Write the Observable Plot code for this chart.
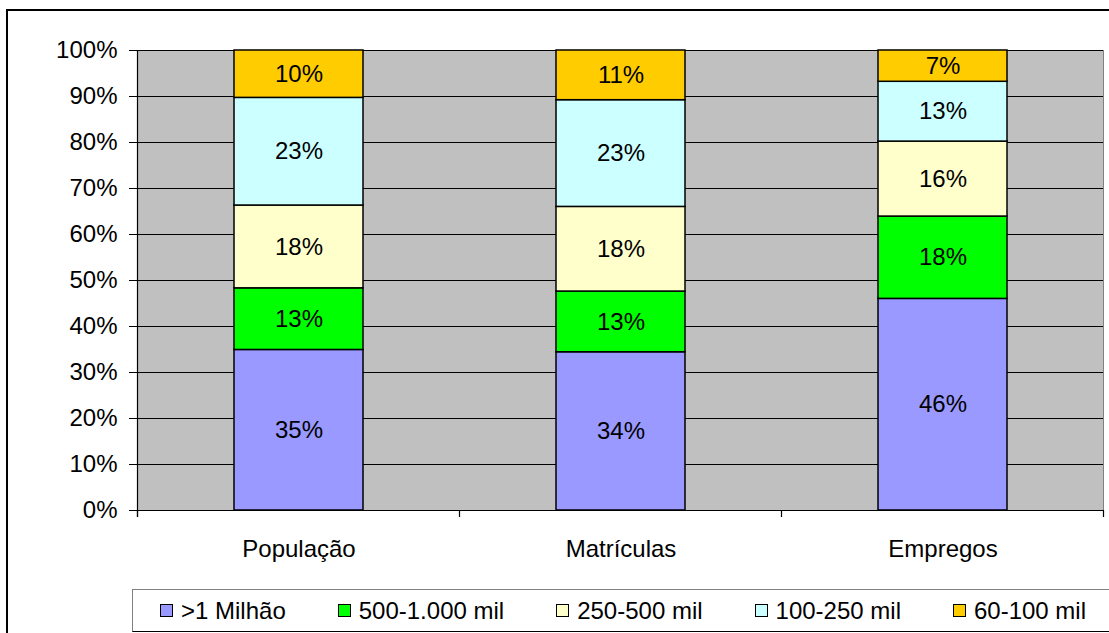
<!DOCTYPE html>
<html>
<head>
<meta charset="utf-8">
<script src="https://cdn.jsdelivr.net/npm/d3@7"></script>
<script src="https://cdn.jsdelivr.net/npm/@observablehq/plot@0.6"></script>
<style>
  html, body { margin: 0; padding: 0; background: #fff; overflow: hidden; }
  #wrap { position: relative; width: 1109px; height: 633px; font-family: "Liberation Sans", Arial, sans-serif; }
  #frame { position: absolute; left: 6px; top: 9px; width: 1120px; height: 640px; border: 2px solid #000; box-sizing: border-box; }
  #chart { position: absolute; left: 0; top: 0; }
  #legend { position: absolute; left: 132px; top: 589px; width: 1000px; height: 43px; border: 1px solid #808080; border-bottom: 1.5px solid #000; box-sizing: border-box; background: #fff; display: flex; align-items: center; padding-left: 27px; font-size: 24px; }
  .item { display: flex; align-items: center; margin-right: 52px; white-space: nowrap; }
  .sw { width: 11px; height: 11px; border: 1.5px solid #000; margin-right: 8px; }
</style>
</head>
<body>
<div id="wrap">
  <div id="frame"></div>
  <div id="chart"></div>
  <div id="legend"></div>
</div>
<script>
const categories = ["População", "Matrículas", "Empregos"];
const series = [">1 Milhão", "500-1.000 mil", "250-500 mil", "100-250 mil", "60-100 mil"];
const colors = ["#9999FF", "#00FF00", "#FFFFCC", "#CCFFFF", "#FFCC00"];
// values per series, in category order
const milhao   = [34.9, 34.4, 46.0];
const mil500   = [13.4, 13.2, 17.9];
const mil250   = [18.0, 18.4, 16.3];
const mil100   = [23.4, 23.2, 13.0];
const mil60    = [10.3, 10.8, 6.8];
const yTicks = [0, 10, 20, 30, 40, 50, 60, 70, 80, 90, 100];

const seriesValues = [milhao, mil500, mil250, mil100, mil60];
const data = [];
series.forEach((s, i) => categories.forEach((c, j) => data.push({cat: c, series: s, value: seriesValues[i][j]})));

const font = '"Liberation Sans", Arial, sans-serif';
const plot = Plot.plot({
  width: 1109,
  height: 633,
  marginLeft: 137,
  marginRight: 6,
  marginTop: 50,
  marginBottom: 123,
  style: {fontFamily: font, fontSize: "24px", background: "transparent", color: "#000"},
  x: {type: "band", domain: categories, paddingInner: 0.6, paddingOuter: 0.3, label: null},
  y: {domain: [0, 100], label: null},
  color: {domain: series, range: colors},
  marks: [
    Plot.frame({fill: "#C0C0C0", stroke: "#808080"}),
    Plot.ruleY(yTicks, {stroke: "#000", strokeWidth: 1}),
    Plot.axisY({ticks: yTicks, tickFormat: d => d + "%", tickSize: 8, tickPadding: 12, label: null, fontSize: 24}),
    Plot.axisX({tickSize: 0, tickPadding: 29, label: null, fontSize: 24}),
    Plot.barY(data, {x: "cat", y: "value", fill: "series", stroke: "#000", strokeWidth: 1.5}),
    Plot.text(data, Plot.stackY({x: "cat", y: "value", text: d => Math.round(d.value) + "%", fill: "#000", fontSize: 24}))
  ]
});
document.getElementById("chart").appendChild(plot);

// Excel-style axis line and category separator ticks, from the scales
const xs = plot.scale("x"), ys = plot.scale("y");
const svg = d3.select(plot);
const y0 = ys.apply(0), y100 = ys.apply(100);
const gap = (xs.step - xs.bandwidth) / 2;
const bounds = categories.map(c => xs.apply(c) - gap);
bounds.push(xs.apply(categories[categories.length - 1]) + xs.bandwidth + gap);
const g = svg.append("g").attr("stroke", "#000").attr("stroke-width", 1.2);
g.append("line").attr("x1", bounds[0]).attr("x2", bounds[0]).attr("y1", y100).attr("y2", y0 + 7);
bounds.forEach(b => g.append("line").attr("x1", b).attr("x2", b).attr("y1", y0).attr("y2", y0 + 7));

// legend
const leg = d3.select("#legend");
series.forEach((s, i) => {
  const it = leg.append("div").attr("class", "item");
  it.append("div").attr("class", "sw").style("background", colors[i]);
  it.append("span").text(s);
});
</script>
</body>
</html>
